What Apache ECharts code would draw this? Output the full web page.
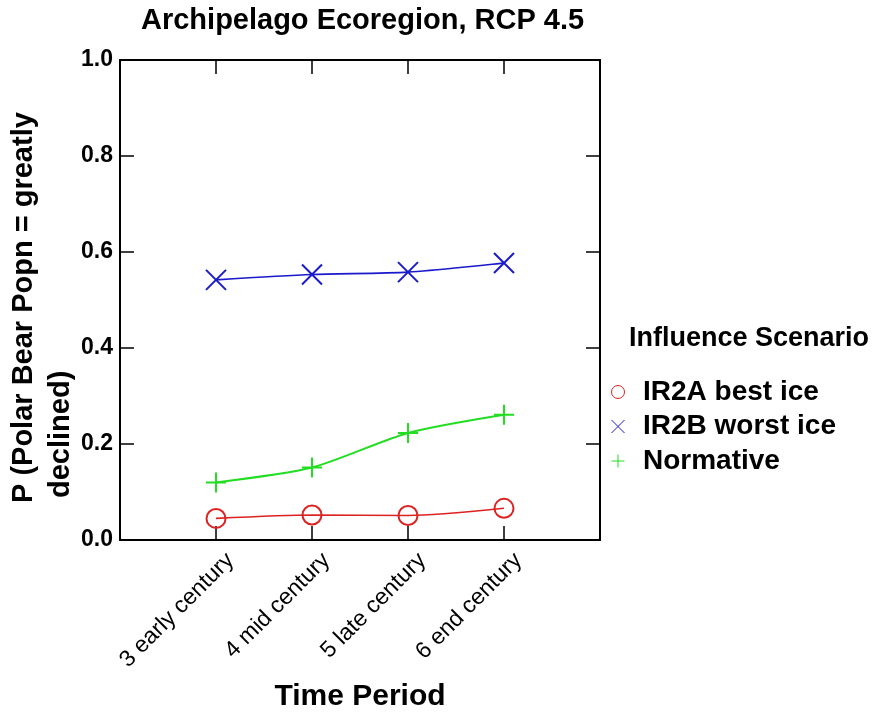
<!DOCTYPE html>
<html>
<head>
<meta charset="utf-8">
<script src="https://cdn.jsdelivr.net/npm/echarts@6/dist/echarts.min.js"></script>
<style>
  html, body { margin: 0; padding: 0; background: #fff; }
  #main { width: 888px; height: 712px; }
</style>
</head>
<body>
<div id="main"></div>
<script>
// time periods along x (plotted at positions 1..4 on a 0..5 axis)
var periods = ["3 early century", "4 mid century", "5 late century", "6 end century"];
var periodPos = [1, 2, 3, 4];

// P(polar bear popn = greatly declined)
var bestIce = [0.045, 0.052, 0.051, 0.066];
var worstIce = [0.542, 0.553, 0.558, 0.577];
var normative = [0.120, 0.151, 0.223, 0.261];

var seriesNames = ["IR2A best ice", "IR2B worst ice", "Normative"];

var FONT = "'Liberation Sans', Arial, sans-serif";
var RED = "#dd2222";
var BLUE = "#1a1acc";
var GREEN = "#22dd22";
var CROSS = "path://M0,0L10,10M10,0L0,10";
var PLUS = "path://M5,0L5,10M0,5L10,5";

function pairs(ys) {
  return ys.map(function (y, i) { return [periodPos[i], y]; });
}

var frameLine = { show: true, onZero: false, lineStyle: { color: "#000", width: 2 } };
var innerTick = { show: true, inside: true, length: 14, lineStyle: { color: "#000", width: 1.5 } };

var chart = echarts.init(document.getElementById("main"));

chart.setOption({
  animation: false,
  backgroundColor: "#fff",
  title: [
    {
      text: "Archipelago Ecoregion, RCP 4.5",
      left: 141,
      top: 6,
      padding: 0,
      textStyle: { fontFamily: FONT, fontSize: 29, fontWeight: "bold", color: "#000" }
    },
    {
      text: "Influence Scenario",
      left: 629,
      top: 325,
      padding: 0,
      textStyle: { fontFamily: FONT, fontSize: 27, fontWeight: "bold", color: "#000" }
    }
  ],
  legend: {
    orient: "vertical",
    left: 611,
    top: 378,
    padding: 0,
    itemWidth: 40,
    itemHeight: 13,
    itemGap: 6.5,
    selectedMode: false,
    symbolKeepAspect: true,
    textStyle: { fontFamily: FONT, fontSize: 28, fontWeight: "bold", color: "#000" },
    data: [
      { name: seriesNames[0], icon: "circle", itemStyle: { color: "rgba(0,0,0,0)", borderColor: RED, borderWidth: 1 } },
      { name: seriesNames[1], icon: CROSS, itemStyle: { color: "rgba(0,0,0,0)", borderColor: BLUE, borderWidth: 1 } },
      { name: seriesNames[2], icon: PLUS, itemStyle: { color: "rgba(0,0,0,0)", borderColor: GREEN, borderWidth: 1 } }
    ]
  },
  grid: {
    left: 120,
    right: 288,
    top: 60,
    bottom: 172,
    containLabel: false,
    outerBoundsMode: "none"
  },
  xAxis: [
    {
      // main axis: frame bottom + ticks + title
      type: "value",
      position: "bottom",
      min: 0,
      max: 5,
      axisLine: frameLine,
      axisTick: Object.assign({ customValues: periodPos }, innerTick),
      axisLabel: { show: false },
      splitLine: { show: false },
      name: "Time Period",
      nameLocation: "middle",
      nameGap: 142,
      nameTextStyle: { fontFamily: FONT, fontSize: 30, fontWeight: "bold", color: "#000" }
    },
    {
      // label-only axis, shifted a bit so rotated labels sit like the original
      type: "value",
      position: "bottom",
      min: -0.15,
      max: 4.85,
      axisLine: { show: false, onZero: false },
      axisTick: { show: false },
      splitLine: { show: false },
      axisLabel: {
        customValues: periodPos,
        rotate: 45,
        margin: 17,
        fontFamily: FONT,
        fontSize: 23,
        color: "#000",
        formatter: function (v) { return periods[Math.round(v) - 1] || ""; }
      }
    },
    {
      // top frame
      type: "value",
      position: "top",
      min: 0,
      max: 5,
      axisLine: frameLine,
      axisTick: Object.assign({ customValues: periodPos }, innerTick),
      axisLabel: { show: false },
      splitLine: { show: false }
    }
  ],
  yAxis: [
    {
      type: "value",
      position: "left",
      min: 0,
      max: 1,
      interval: 0.2,
      axisLine: frameLine,
      axisTick: innerTick,
      splitLine: { show: false },
      axisLabel: {
        margin: 7,
        fontFamily: FONT,
        fontSize: 23,
        fontWeight: "bold",
        color: "#000",
        formatter: function (v) { return v.toFixed(1); }
      }
    },
    {
      type: "value",
      position: "right",
      min: 0,
      max: 1,
      interval: 0.2,
      axisLine: frameLine,
      axisTick: innerTick,
      splitLine: { show: false },
      axisLabel: { show: false }
    }
  ],
  graphic: [
    {
      type: "text",
      x: 24,
      y: 503,
      rotation: Math.PI / 2,
      style: {
        text: "P (Polar Bear Popn = greatly",
        font: "bold 29px " + FONT,
        fill: "#000",
        align: "left",
        verticalAlign: "middle"
      }
    },
    {
      type: "text",
      x: 61,
      y: 498,
      rotation: Math.PI / 2,
      style: {
        text: "declined)",
        font: "bold 29px " + FONT,
        fill: "#000",
        align: "left",
        verticalAlign: "middle"
      }
    }
  ],
  series: [
    {
      name: seriesNames[0],
      type: "line",
      xAxisIndex: 0,
      yAxisIndex: 0,
      data: pairs(bestIce),
      smooth: 0.25,
      symbol: "circle",
      symbolSize: 19,
      itemStyle: { color: "rgba(0,0,0,0)", borderColor: RED, borderWidth: 2 },
      lineStyle: { color: RED, width: 1.6 }
    },
    {
      name: seriesNames[1],
      type: "line",
      xAxisIndex: 0,
      yAxisIndex: 0,
      data: pairs(worstIce),
      smooth: 0.25,
      symbol: CROSS,
      symbolSize: 20,
      itemStyle: { color: "rgba(0,0,0,0)", borderColor: BLUE, borderWidth: 2 },
      lineStyle: { color: BLUE, width: 1.6 }
    },
    {
      name: seriesNames[2],
      type: "line",
      xAxisIndex: 0,
      yAxisIndex: 0,
      data: pairs(normative),
      smooth: 0.25,
      symbol: PLUS,
      symbolSize: 20,
      itemStyle: { color: "rgba(0,0,0,0)", borderColor: GREEN, borderWidth: 2 },
      lineStyle: { color: GREEN, width: 2 }
    }
  ]
});
</script>
</body>
</html>
